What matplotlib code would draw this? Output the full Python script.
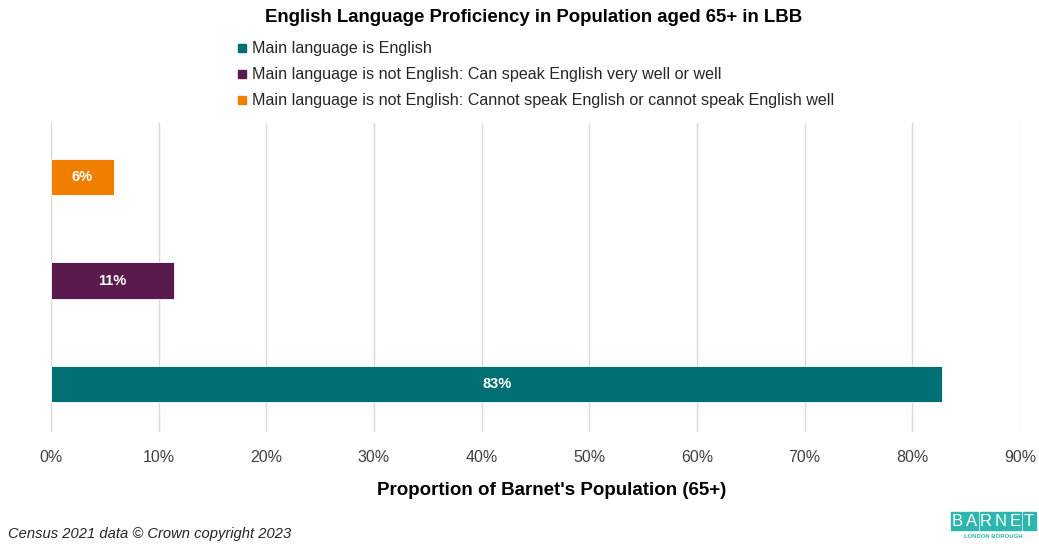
import matplotlib.pyplot as plt
from matplotlib.patches import Rectangle
from matplotlib.ticker import FuncFormatter

plt.rcParams['font.family'] = ['Liberation Sans', 'DejaVu Sans']

# proficiency groups, drawn bottom to top
categories = [
    "Main language is English",
    "Main language is not English: Can speak English very well or well",
    "Main language is not English: Cannot speak English or cannot speak English well",
]
shares = [82.8, 11.4, 5.85]
labels = ["83%", "11%", "6%"]
colors = ["#006F74", "#5B1A4E", "#F07F00"]
xticks = list(range(0, 100, 10))

fig = plt.figure(figsize=(10.39, 5.44), dpi=100)
ax = fig.add_axes([51 / 1039, 1 - 432 / 544, (1020 - 51) / 1039, (432 - 123) / 544])

ypos = range(len(categories))
bars = ax.barh(ypos, shares, height=0.35, color=colors, edgecolor="white", linewidth=0.6, zorder=3)
for b, lab in zip(bars, labels):
    ax.text(b.get_width() / 2, b.get_y() + b.get_height() / 2, lab,
            ha="center", va="center", color="white", fontsize=10.5, fontweight="bold", zorder=4)

ax.set_xlim(0, 90)
ax.set_ylim(-0.46, 2.52)
ax.set_xticks(xticks)
ax.xaxis.set_major_formatter(FuncFormatter(lambda v, p: f"{v:.0f}%"))
ax.set_yticks([])
ax.tick_params(axis="x", length=0, labelsize=11.5, pad=13, colors="#404040")
ax.grid(axis="x", color="#D9D9D9", linewidth=1, zorder=0)
for s in ax.spines.values():
    s.set_visible(False)
ax.set_xlabel("Proportion of Barnet's Population (65+)", fontsize=13.5, fontweight="bold")
ax.xaxis.set_label_coords(0.517, -0.162)

fig.text(0.514, 1 - 17 / 544, "English Language Proficiency in Population aged 65+ in LBB",
         ha="center", va="center", fontsize=13.4, fontweight="bold")

# legend, top item first
for i, (cat, col) in enumerate(zip(categories, colors)):
    y = 1 - (48 + 26 * i) / 544
    fig.patches.append(Rectangle((238 / 1039, y - 4 / 544), 8 / 1039, 8 / 544,
                                 transform=fig.transFigure, color=col))
    fig.text(252 / 1039, y, cat, ha="left", va="center", fontsize=11.6, color="#262626")

fig.text(8 / 1039, 1 - 534 / 544, "Census 2021 data \u00a9 Crown copyright 2023",
         ha="left", va="center", fontsize=10.6, style="italic", color="#262626")

# borough logo
logo_teal = "#2DB6AE"
for i, ch in enumerate("BARNET"):
    x0 = (951 + i * 14.3) / 1039
    fig.patches.append(Rectangle((x0, 1 - 530 / 544), 13 / 1039, 18 / 544,
                                 transform=fig.transFigure, color=logo_teal))
    fig.text(x0 + 6.5 / 1039, 1 - 521 / 544, ch, ha="center", va="center",
             fontsize=12, color="white")
fig.text(993 / 1039, 1 - 536 / 544, "LONDON BOROUGH", ha="center", va="center",
         fontsize=4.3, fontweight="bold", color=logo_teal)

fig.savefig("out.png", dpi=100)
